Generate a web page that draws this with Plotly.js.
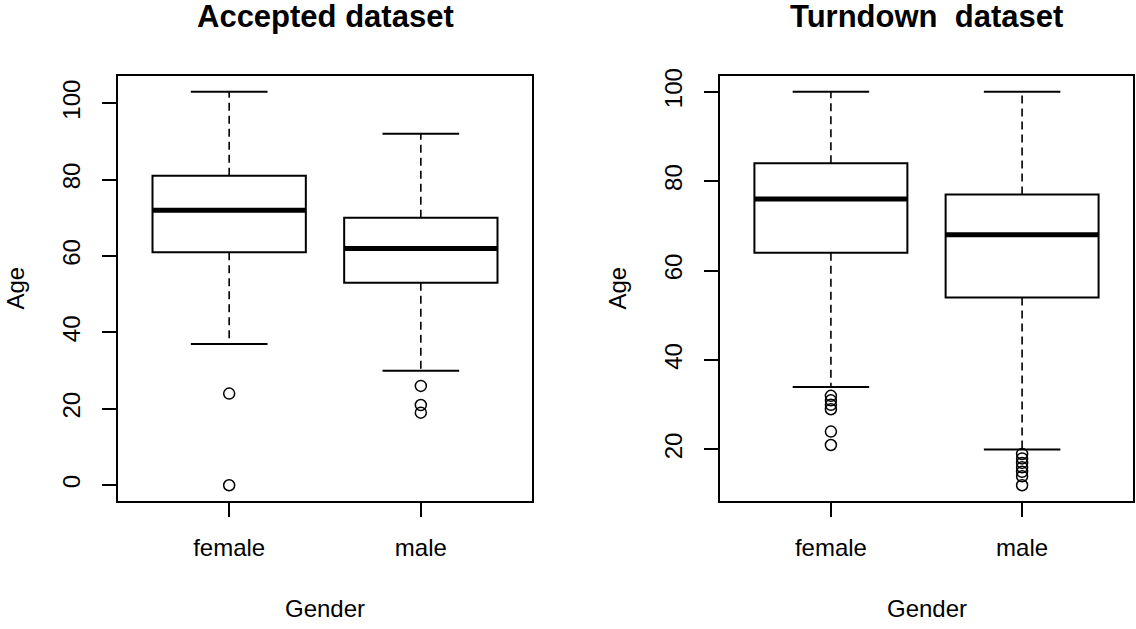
<!DOCTYPE html>
<html>
<head>
<meta charset="utf-8">
<script src="https://cdn.plot.ly/plotly-3.0.1.min.js"></script>
<style>html,body{margin:0;padding:0;background:#fff}#chart{width:1136px;height:629px}</style>
</head>
<body>
<div id="chart"></div>
<script>
// ---- data ----
const categories = ['female', 'male'];
const catPos = [1, 2];

// Accepted dataset
const accQ1 = [61, 53];
const accMedian = [72, 62];
const accQ3 = [81, 70];
const accLowerWhisker = [37, 30];
const accUpperWhisker = [103, 92];
const accOutliersFemale = [24, 0];
const accOutliersMale = [26, 21, 19];

// Turndown dataset
const turnQ1 = [64, 54];
const turnMedian = [76, 68];
const turnQ3 = [84, 77];
const turnLowerWhisker = [34, 20];
const turnUpperWhisker = [100, 100];
const turnOutliersFemale = [32, 31, 30, 29, 24, 21];
const turnOutliersMale = [19, 18, 17, 16, 15, 14, 12];

const yTicksAcc = [0, 20, 40, 60, 80, 100];
const yTicksTurn = [20, 40, 60, 80, 100];

const titles = ['Accepted dataset', 'Turndown\u00a0 dataset'];
const xTitle = 'Gender';
const yTitle = 'Age';

// ---- style ----
const FONT = 'Liberation Sans, Arial, sans-serif';
const BOXW = 0.8, CAPW = 0.4;

function panelTraces(q1, med, q3, lo, hi, outF, outM, xa, ya) {
  const tr = [];
  tr.push({
    type: 'box', x: catPos, q1: q1, median: med, q3: q3,
    lowerfence: q1, upperfence: q3, width: BOXW, whiskerwidth: 0,
    boxpoints: false, fillcolor: '#ffffff',
    line: {color: '#000000', width: 2}, xaxis: xa, yaxis: ya,
    hoverinfo: 'skip', showlegend: false
  });
  for (let i = 0; i < catPos.length; i++) {
    const c = catPos[i];
    tr.push({type: 'scatter', mode: 'lines', x: [c, c, null, c, c], y: [q3[i], hi[i], null, q1[i], lo[i]],
      line: {color: '#000', width: 1.6, dash: '8px,5px'}, xaxis: xa, yaxis: ya, showlegend: false, hoverinfo: 'skip'});
    tr.push({type: 'scatter', mode: 'lines', x: [c - CAPW/2, c + CAPW/2, null, c - CAPW/2, c + CAPW/2], y: [hi[i], hi[i], null, lo[i], lo[i]],
      line: {color: '#000', width: 2}, xaxis: xa, yaxis: ya, showlegend: false, hoverinfo: 'skip'});
    tr.push({type: 'scatter', mode: 'lines', x: [c - BOXW/2, c + BOXW/2], y: [med[i], med[i]],
      line: {color: '#000', width: 5}, xaxis: xa, yaxis: ya, showlegend: false, hoverinfo: 'skip'});
  }
  const outs = [outF, outM];
  for (let i = 0; i < outs.length; i++) {
    tr.push({type: 'scatter', mode: 'markers', x: outs[i].map(() => catPos[i]), y: outs[i],
      marker: {symbol: 'circle-open', size: 11, color: '#000', line: {width: 1.5, color: '#000'}},
      xaxis: xa, yaxis: ya, showlegend: false, hoverinfo: 'skip'});
  }
  return tr;
}

function rRange(arrs) {
  const all = [].concat(...arrs);
  const mn = Math.min(...all), mx = Math.max(...all);
  const pad = (mx - mn) * 0.04;
  return [mn - pad, mx + pad];
}

const data = [].concat(
  panelTraces(accQ1, accMedian, accQ3, accLowerWhisker, accUpperWhisker, accOutliersFemale, accOutliersMale, 'x', 'y'),
  panelTraces(turnQ1, turnMedian, turnQ3, turnLowerWhisker, turnUpperWhisker, turnOutliersFemale, turnOutliersMale, 'x2', 'y2')
);

const W = 1136, H = 629;
const yDom = [(H - 501) / H, (H - 76) / H];
const xRange = [0.5 - 0.08, catPos.length + 0.5 + 0.08];

function xAxis(dom, anchor) {
  return {domain: dom, anchor: anchor, range: xRange, tickvals: catPos, ticktext: categories,
    ticks: 'outside', ticklen: 14, tickwidth: 2, tickcolor: '#000', ticklabelstandoff: 10,
    showline: true, mirror: true, linewidth: 2, linecolor: '#000',
    showgrid: false, zeroline: false, fixedrange: true,
    tickfont: {family: FONT, size: 24, color: '#000'}};
}
function yAxis(range, ticks, anchor) {
  return {domain: yDom, anchor: anchor, range: range, tickvals: ticks, tickangle: -90,
    ticks: 'outside', ticklen: 14, tickwidth: 2, tickcolor: '#000', ticklabelstandoff: 12,
    showline: true, mirror: true, linewidth: 2, linecolor: '#000',
    showgrid: false, zeroline: false, fixedrange: true,
    tickfont: {family: FONT, size: 24, color: '#000'}};
}

const layout = {
  width: W, height: H, margin: {l: 0, r: 0, t: 0, b: 0},
  paper_bgcolor: '#fff', plot_bgcolor: '#fff', showlegend: false,
  xaxis: xAxis([118 / W, 532 / W], 'y'),
  yaxis: yAxis(rRange([accLowerWhisker, accUpperWhisker, accOutliersFemale, accOutliersMale]), yTicksAcc, 'x'),
  xaxis2: xAxis([720 / W, 1133 / W], 'y2'),
  yaxis2: yAxis(rRange([turnLowerWhisker, turnUpperWhisker, turnOutliersFemale, turnOutliersMale]), yTicksTurn, 'x2'),
  annotations: [
    {text: '<b>' + titles[0] + '</b>', xref: 'x domain', yref: 'paper', x: 0.5, y: 1 - 17 / H, xanchor: 'center', yanchor: 'middle', showarrow: false, font: {family: FONT, size: 31, color: '#000'}},
    {text: '<b>' + titles[1] + '</b>', xref: 'x2 domain', yref: 'paper', x: 0.5, y: 1 - 17 / H, xanchor: 'center', yanchor: 'middle', showarrow: false, font: {family: FONT, size: 31, color: '#000'}},
    {text: xTitle, xref: 'x domain', yref: 'paper', x: 0.5, y: 1 - 608 / H, xanchor: 'center', yanchor: 'middle', showarrow: false, font: {family: FONT, size: 24, color: '#000'}},
    {text: xTitle, xref: 'x2 domain', yref: 'paper', x: 0.5, y: 1 - 608 / H, xanchor: 'center', yanchor: 'middle', showarrow: false, font: {family: FONT, size: 24, color: '#000'}},
    {text: yTitle, xref: 'paper', yref: 'y domain', x: 15 / W, y: 0.5, xanchor: 'center', yanchor: 'middle', textangle: -90, showarrow: false, font: {family: FONT, size: 24, color: '#000'}},
    {text: yTitle, xref: 'paper', yref: 'y2 domain', x: 617 / W, y: 0.5, xanchor: 'center', yanchor: 'middle', textangle: -90, showarrow: false, font: {family: FONT, size: 24, color: '#000'}}
  ]
};

Plotly.newPlot('chart', data, layout, {displayModeBar: false, staticPlot: true});
</script>
</body>
</html>
